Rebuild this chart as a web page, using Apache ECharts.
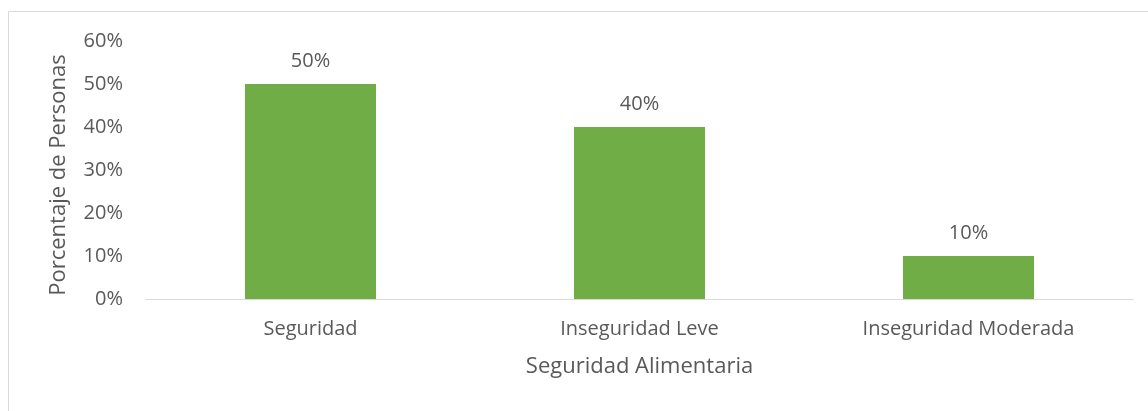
<!DOCTYPE html>
<html>
<head>
<meta charset="utf-8">
<script src="https://cdn.jsdelivr.net/npm/echarts@6/dist/echarts.min.js"></script>
<style>
  html, body { margin: 0; padding: 0; background: #ffffff; }
  #chart { width: 1148px; height: 411px; }
</style>
</head>
<body>
<div id="chart"></div>
<script>
// Food security distribution
const categories = ['Seguridad', 'Inseguridad Leve', 'Inseguridad Moderada'];
const values = [50, 40, 10];
const yTicks = [0, 10, 20, 30, 40, 50, 60];

const FONT = '"Open Sans", "Noto Sans", sans-serif';
const TEXT = '#595959';

const chart = echarts.init(document.getElementById('chart'), null, { renderer: 'canvas' });
chart.setOption({
  backgroundColor: '#ffffff',
  animation: false,
  graphic: [{
    type: 'rect',
    shape: { x: 8.5, y: 11.5, width: 1160, height: 420 },
    style: { fill: 'none', stroke: '#d9d9d9', lineWidth: 1 },
    silent: true
  }],
  grid: { left: 146, right: 15, top: 41, bottom: 112 },
  xAxis: {
    type: 'category',
    data: categories,
    name: 'Seguridad Alimentaria',
    nameLocation: 'middle',
    nameGap: 57,
    nameTextStyle: { color: TEXT, fontFamily: FONT, fontSize: 22 },
    axisLine: { lineStyle: { color: '#d9d9d9', width: 1 } },
    axisTick: { show: false },
    axisLabel: { color: TEXT, fontFamily: FONT, fontSize: 20, margin: 20 }
  },
  yAxis: {
    type: 'value',
    min: yTicks[0],
    max: yTicks[yTicks.length - 1],
    interval: 10,
    name: 'Porcentaje de Personas',
    nameLocation: 'middle',
    nameGap: 76,
    nameTextStyle: { color: TEXT, fontFamily: FONT, fontSize: 22, padding: [0, 10, 0, 0] },
    axisLine: { show: false },
    axisTick: { show: false },
    splitLine: { show: false },
    axisLabel: { color: TEXT, fontFamily: FONT, fontSize: 20, margin: 23, formatter: v => v + '%' }
  },
  series: [{
    type: 'bar',
    data: values,
    barWidth: 131,
    itemStyle: { color: '#70ad47' },
    label: {
      show: true,
      position: 'top',
      distance: 13,
      color: TEXT,
      fontFamily: FONT,
      fontSize: 20,
      formatter: p => p.value + '%'
    }
  }]
});
</script>
</body>
</html>
